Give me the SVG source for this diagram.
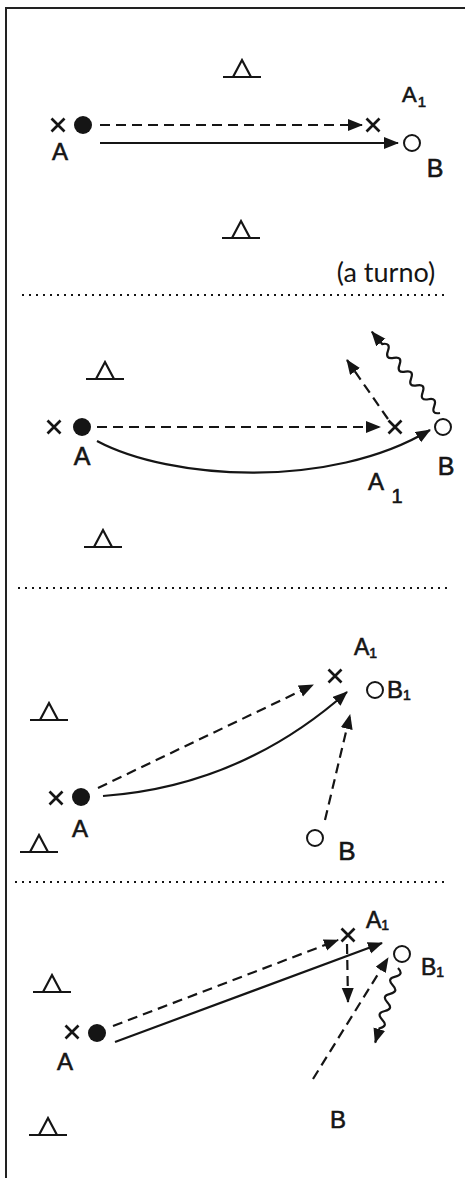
<svg xmlns="http://www.w3.org/2000/svg" xmlns:xlink="http://www.w3.org/1999/xlink" width="465" height="1178" viewBox="0 0 465 1178">
<style>
.ln{stroke:#151515;stroke-width:2.2;fill:none}
.dash{stroke-dasharray:10 6}
.dot{stroke:#151515;stroke-width:2;stroke-dasharray:2 5;fill:none}
.frame{stroke:#222;stroke-width:2;fill:none}
.lbl{font-family:"Liberation Sans",Arial,sans-serif;fill:#151515;stroke:#151515;stroke-width:0.6}
.note{font-family:Lato,"Open Sans",sans-serif;fill:#151515}
.ball{fill:#151515}
.open{fill:#fff;stroke:#151515;stroke-width:2}
</style>
<defs>
<marker id="ah" markerUnits="userSpaceOnUse" markerWidth="16" markerHeight="13" refX="14" refY="6" orient="auto">
<path d="M0,0 L15,6 L0,12 z" fill="#151515"/>
</marker>
<path id="xm" d="M-6.5,-6.5 L6.5,6.5 M6.5,-6.5 L-6.5,6.5" stroke="#151515" stroke-width="2.7" fill="none"/>
<path id="tri" d="M-19,0 H19 M-9,0 L0,-17 L9,0" stroke="#151515" stroke-width="2.2" fill="none"/>
</defs>
<rect width="465" height="1178" fill="#fff"/>

<g id="frame">
<path class="frame" d="M6,1178 V8 H465"/>
<line class="dot" x1="22" y1="295" x2="448" y2="295"/>
<line class="dot" x1="18" y1="588" x2="450" y2="588"/>
<line class="dot" x1="15" y1="882" x2="448" y2="882"/>
</g>

<g id="connectors">
<!-- panel 1 -->
<line class="ln dash" x1="100" y1="125" x2="362" y2="125" marker-end="url(#ah)"/>
<line class="ln" x1="100" y1="143" x2="398" y2="143" marker-end="url(#ah)"/>
<!-- panel 2 -->
<line class="ln dash" x1="97" y1="427" x2="380" y2="427" marker-end="url(#ah)"/>
<path class="ln" d="M97,441 C170,480 330,490 430,430" marker-end="url(#ah)"/>
<line class="ln dash" x1="388" y1="419" x2="347" y2="360" marker-end="url(#ah)"/>
<g transform="translate(440,413) rotate(-130)">
<path class="ln" d="M0,0 q4.5,-8 9,0 t9,0 t9,0 t9,0 t9,0 t9,0 t9,0 t9,0 t9,0 t9,0 l16,0" marker-end="url(#ah)"/>
</g>
<!-- panel 3 -->
<line class="ln dash" x1="98" y1="788" x2="313" y2="685" marker-end="url(#ah)"/>
<path class="ln" d="M103,796 Q241,786 347,692" marker-end="url(#ah)"/>
<line class="ln dash" x1="325" y1="820" x2="350" y2="715" marker-end="url(#ah)"/>
<!-- panel 4 -->
<line class="ln dash" x1="113" y1="1026" x2="338" y2="940" marker-end="url(#ah)"/>
<line class="ln" x1="115" y1="1042" x2="382" y2="943" marker-end="url(#ah)"/>
<line class="ln dash" x1="347" y1="944" x2="348" y2="1002" marker-end="url(#ah)"/>
<line class="ln dash" x1="313" y1="1079" x2="388" y2="958" marker-end="url(#ah)"/>
<g transform="translate(398,968) rotate(107)">
<path class="ln" d="M0,0 q4.5,-8 9,0 t9,0 t9,0 t9,0 t9,0 t9,0 t9,0 l15,0" marker-end="url(#ah)"/>
</g>
</g>

<!-- panel 1 nodes -->
<g id="p1-cone-top"><use xlink:href="#tri" x="242" y="77"/></g>
<g id="p1-cone-bottom"><use xlink:href="#tri" x="241" y="238"/></g>
<g id="p1-A"><use xlink:href="#xm" x="58" y="125"/><circle class="ball" cx="83" cy="125" r="9"/><text class="lbl" x="60" y="160" font-size="24" text-anchor="middle">A</text></g>
<g id="p1-A1"><use xlink:href="#xm" x="373" y="125"/><text class="lbl" x="402" y="102" font-size="22">A<tspan font-size="15" dx="1" dy="5">1</tspan></text></g>
<g id="p1-B"><circle class="open" cx="412" cy="143" r="8"/><text class="lbl" x="435" y="177" font-size="25" text-anchor="middle">B</text></g>
<g id="p1-note"><text class="note" x="386" y="282" font-size="27" text-anchor="middle">(a turno)</text></g>

<!-- panel 2 nodes -->
<g id="p2-cone-top"><use xlink:href="#tri" x="105" y="379"/></g>
<g id="p2-cone-bottom"><use xlink:href="#tri" x="103" y="547"/></g>
<g id="p2-A"><use xlink:href="#xm" x="54" y="427"/><circle class="ball" cx="82" cy="427" r="9"/><text class="lbl" x="82" y="465" font-size="25" text-anchor="middle">A</text></g>
<g id="p2-A1"><use xlink:href="#xm" x="395" y="427"/><text class="lbl" x="376" y="490" font-size="24" text-anchor="middle">A</text><text class="lbl" x="397" y="503" font-size="20" text-anchor="middle">1</text></g>
<g id="p2-B"><circle class="open" cx="443" cy="427" r="8"/><text class="lbl" x="446" y="475" font-size="25" text-anchor="middle">B</text></g>

<!-- panel 3 nodes -->
<g id="p3-cone-top"><use xlink:href="#tri" x="49" y="720"/></g>
<g id="p3-cone-bottom"><use xlink:href="#tri" x="39" y="852"/></g>
<g id="p3-A"><use xlink:href="#xm" x="56" y="798"/><circle class="ball" cx="81" cy="797" r="9"/><text class="lbl" x="80" y="837" font-size="24" text-anchor="middle">A</text></g>
<g id="p3-A1"><use xlink:href="#xm" x="335" y="676"/><text class="lbl" x="354" y="655" font-size="23">A<tspan font-size="14" dx="0" dy="3">1</tspan></text></g>
<g id="p3-B1"><circle class="open" cx="375" cy="690" r="8"/><text class="lbl" x="387" y="698" font-size="24">B<tspan font-size="14" dx="0" dy="2">1</tspan></text></g>
<g id="p3-B"><circle class="open" cx="315" cy="838" r="8"/><text class="lbl" x="347" y="860" font-size="26" text-anchor="middle">B</text></g>

<!-- panel 4 nodes -->
<g id="p4-cone-top"><use xlink:href="#tri" x="52" y="992"/></g>
<g id="p4-cone-bottom"><use xlink:href="#tri" x="48" y="1135"/></g>
<g id="p4-A"><use xlink:href="#xm" x="72" y="1032"/><circle class="ball" cx="97" cy="1033" r="9"/><text class="lbl" x="65" y="1070" font-size="24" text-anchor="middle">A</text></g>
<g id="p4-A1"><use xlink:href="#xm" x="348" y="935"/><text class="lbl" x="366" y="928" font-size="23">A<tspan font-size="14" dx="0" dy="2">1</tspan></text></g>
<g id="p4-B1"><circle class="open" cx="402" cy="954" r="8"/><text class="lbl" x="421" y="975" font-size="23">B<tspan font-size="14" dx="0" dy="2">1</tspan></text></g>
<g id="p4-B"><text class="lbl" x="338" y="1128" font-size="24" text-anchor="middle">B</text></g>
</svg>
